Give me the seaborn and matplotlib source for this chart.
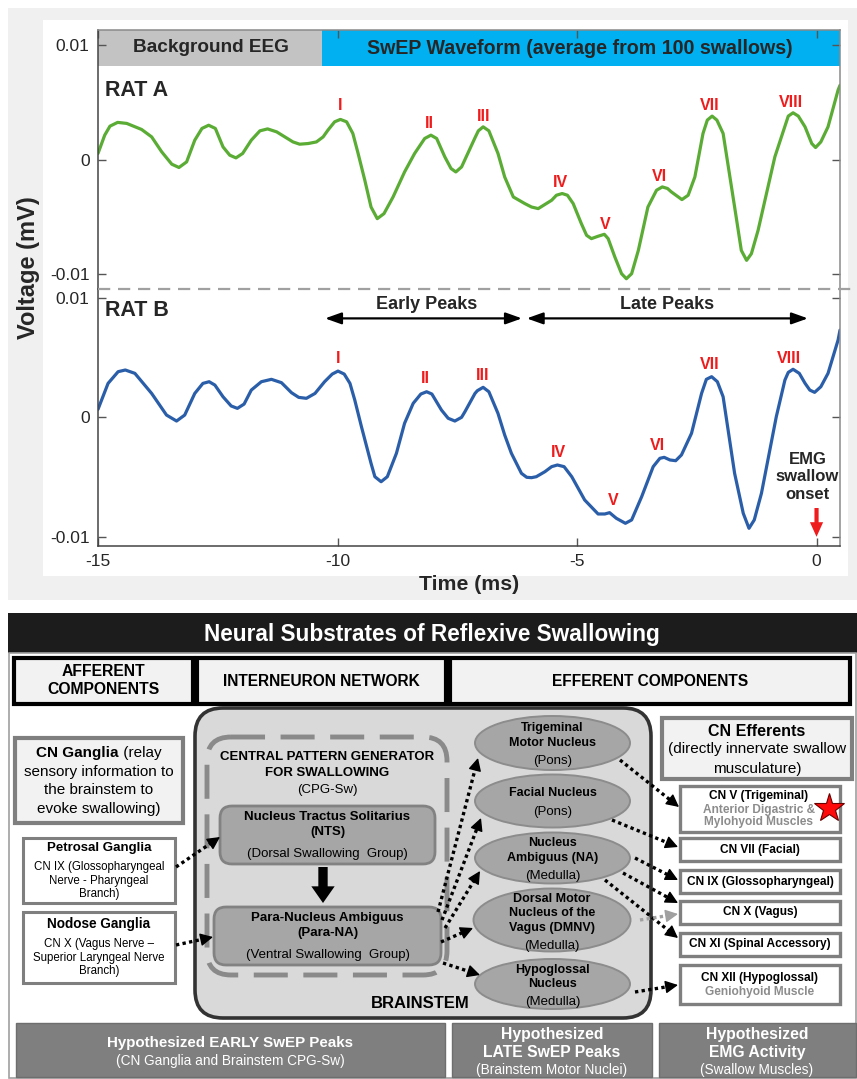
import numpy as np
import pandas as pd
import matplotlib
matplotlib.use("Agg")
import matplotlib.pyplot as plt
import seaborn as sns
from matplotlib.patches import Rectangle, FancyBboxPatch, Ellipse

# ---------------- data ----------------
time_a_ms = [-15.0, -14.86, -14.75, -14.59, -14.40, -14.09, -13.88, -13.67, -13.46, -13.31,
             -13.15, -12.98, -12.83, -12.69, -12.55, -12.39, -12.25, -12.12, -11.98, -11.80,
             -11.62, -11.46, -11.27, -11.10, -10.93, -10.79, -10.61, -10.44, -10.30, -10.20,
             -10.06, -9.94, -9.81, -9.68, -9.57, -9.43, -9.30, -9.17, -9.03, -8.84,
             -8.60, -8.39, -8.18, -8.05, -7.93, -7.76, -7.63, -7.53, -7.41, -7.13,
             -7.06, -6.96, -6.84, -6.65, -6.51, -6.33, -6.09, -5.95, -5.81, -5.53,
             -5.43, -5.31, -5.20, -5.08, -4.91, -4.80, -4.70, -4.56, -4.43, -4.35,
             -4.21, -4.07, -3.97, -3.86, -3.72, -3.52, -3.34, -3.22, -3.11, -3.03,
             -2.81, -2.68, -2.54, -2.37, -2.28, -2.18, -2.08, -1.95, -1.71, -1.57,
             -1.46, -1.36, -1.22, -0.87, -0.59, -0.49, -0.38, -0.24, -0.10, -0.02,
             0.09, 0.24, 0.45, 0.49]
rat_a_uV = [0.53, 2.13, 2.92, 3.25, 3.16, 2.63, 1.98, 0.67, -0.41, -0.70,
            -0.21, 1.69, 2.72, 3.0, 2.72, 1.1, 0.38, 0.14, 0.53, 1.69,
            2.51, 2.68, 2.42, 1.98, 1.54, 1.34, 1.40, 1.54, 1.98, 2.57,
            3.30, 3.51, 3.30, 2.28, 0.53, -1.82, -4.16, -5.18, -4.74, -3.28,
            -1.09, 0.53, 1.84, 2.13, 1.84, 0.23, -0.79, -1.09, -0.65, 1.9,
            2.51, 2.86, 2.51, 0.53, -1.53, -3.28, -3.86, -4.16, -4.30, -3.57,
            -3.13, -2.98, -3.13, -3.86, -5.61, -6.64, -6.93, -6.72, -6.55, -6.93,
            -8.54, -10.0, -10.44, -10.0, -7.96, -4.16, -2.69, -2.40, -2.54, -2.84,
            -3.51, -3.13, -1.53, 2.28, 3.45, 3.80, 3.45, 2.28, -4.16, -7.96,
            -8.83, -8.25, -6.20, 0.23, 3.80, 4.09, 3.80, 2.86, 1.40, 1.05,
            1.54, 2.86, 6.08, 6.5]

time_b_ms = [-15.0, -14.79, -14.58, -14.43, -14.23, -13.88, -13.57, -13.36, -13.19, -12.98,
             -12.81, -12.68, -12.56, -12.39, -12.22, -12.09, -11.95, -11.80, -11.59, -11.38,
             -11.17, -10.96, -10.81, -10.65, -10.47, -10.27, -10.11, -9.99, -9.86, -9.74,
             -9.64, -9.50, -9.30, -9.22, -9.09, -8.96, -8.77, -8.60, -8.42, -8.26,
             -8.14, -8.03, -7.83, -7.69, -7.55, -7.41, -7.34, -7.13, -7.08, -6.96,
             -6.84, -6.65, -6.51, -6.37, -6.16, -6.05, -5.95, -5.85, -5.67, -5.53,
             -5.41, -5.27, -5.11, -4.84, -4.56, -4.42, -4.32, -4.18, -3.99, -3.86,
             -3.65, -3.41, -3.27, -3.18, -3.06, -2.94, -2.82, -2.61, -2.40, -2.30,
             -2.19, -2.07, -1.95, -1.71, -1.53, -1.41, -1.30, -1.15, -0.84, -0.66,
             -0.59, -0.49, -0.36, -0.24, -0.14, -0.04, 0.09, 0.24, 0.45, 0.49]
rat_b_uV = [0.67, 2.84, 3.82, 3.96, 3.68, 2.0, 0.19, -0.31, 0.19, 2.0,
            2.84, 2.98, 2.70, 1.72, 0.95, 0.75, 1.11, 2.28, 2.98, 3.18,
            2.90, 2.06, 1.67, 1.59, 2.0, 2.98, 3.62, 3.87, 3.62, 2.84,
            1.45, -0.79, -3.85, -4.97, -5.39, -4.97, -3.01, -0.50, 1.17, 1.95,
            2.14, 1.95, 0.61, -0.08, -0.31, 0.0, 0.47, 2.0, 2.23, 2.51,
            2.14, 0.33, -1.48, -3.01, -4.69, -5.02, -5.05, -4.97, -4.55, -4.13,
            -3.99, -4.13, -4.97, -6.92, -8.09, -8.09, -7.98, -8.45, -8.87, -8.59,
            -6.64, -4.13, -3.43, -3.35, -3.57, -3.63, -3.15, -1.34, 2.0, 3.18,
            3.40, 2.98, 1.72, -4.69, -8.03, -9.29, -8.59, -6.36, 0.05, 3.12,
            3.76, 4.02, 3.68, 2.85, 2.28, 2.09, 2.56, 3.68, 6.47, 7.3]

peak_names = ["I", "II", "III", "IV", "V", "VI", "VII", "VIII"]
peak_lbl_a_t = [-9.95, -8.09, -6.95, -5.34, -4.42, -3.28, -2.22, -0.54]
peak_lbl_a_uV = [4.76, 3.18, 3.74, -2.05, -5.68, -1.53, 4.76, 5.0]
peak_lbl_b_t = [-9.98, -8.16, -6.98, -5.39, -4.25, -3.33, -2.24, -0.57]
peak_lbl_b_uV = [4.94, 3.26, 3.54, -2.96, -6.92, -2.37, 4.38, 4.94]

x_ticks = [-15, -10, -5, 0]
x_tick_labels = ["-15", "-10", "-5", "0"]
y_ticks = [-0.01, 0, 0.01]
y_tick_labels = ["-0.01", "0", "0.01"]

df_a = pd.DataFrame({"time_ms": time_a_ms, "voltage_mV": np.array(rat_a_uV) / 1000})
df_b = pd.DataFrame({"time_ms": time_b_ms, "voltage_mV": np.array(rat_b_uV) / 1000})

# ---------------- style ----------------
sns.set_theme(style="white")
plt.rcParams["font.family"] = ["Liberation Sans", "DejaVu Sans"]

W, H = 857, 1079
fig = plt.figure(figsize=(W / 100, H / 100), dpi=100)

def px_axes(z):
    a = fig.add_axes([0, 0, 1, 1], zorder=z)
    a.set_xlim(0, W)
    a.set_ylim(H, 0)
    a.set_autoscale_on(False)
    a.axis("off")
    a.patch.set_alpha(0)
    return a

bg = px_axes(0)
fg = px_axes(5)

GREEN = "#5aac35"
BLUE = "#2b5ea8"
RED = "#ee1c1c"

# background panels of the chart
bg.add_patch(Rectangle((8, 8), W - 8, 592, fc="#f0f0f0", ec="none"))
bg.add_patch(Rectangle((43, 20), 805, 556, fc="white", ec="none"))

# ---------------- chart axes ----------------
L, R = 98, 840
axA = fig.add_axes([L / W, 1 - 289 / H, (R - L) / W, 259 / H], zorder=1)
axB = fig.add_axes([L / W, 1 - 546 / H, (R - L) / W, 257 / H], zorder=1)

sns.lineplot(data=df_a, x="time_ms", y="voltage_mV", ax=axA, color=GREEN, linewidth=2.3)
sns.lineplot(data=df_b, x="time_ms", y="voltage_mV", ax=axB, color=BLUE, linewidth=2.3)
for ax in (axA, axB):
    for ln in ax.get_lines():
        ln.set_solid_joinstyle("round")
        ln.set_solid_capstyle("round")

XLIM = (-15, 0.49)
axA.set_xlim(*XLIM)
axB.set_xlim(*XLIM)
axA.set_ylim(-0.01134, 0.01134)
axB.set_ylim(-0.01077, 0.01074)

for ax in (axA, axB):
    ax.set_facecolor("white")
    ax.set_xlabel("")
    ax.set_ylabel("")
    ax.set_xticks(x_ticks)
    ax.set_yticks(y_ticks)
    ax.set_yticklabels(y_tick_labels)
    ax.tick_params(axis="both", direction="in", length=5.5, width=1, color="#555555",
                   labelsize=12.5, labelcolor="#262626", pad=6,
                   left=True, right=True, top=True, bottom=True)
    for s in ("left", "bottom"):
        ax.spines[s].set_color("#444444")
        ax.spines[s].set_linewidth(1.1)
    for s in ("right", "top"):
        ax.spines[s].set_color("#8a8a8a")
        ax.spines[s].set_linewidth(1.1)

axA.tick_params(bottom=False, labelbottom=False)
axA.spines["bottom"].set_visible(False)
axB.spines["top"].set_visible(False)
axB.tick_params(top=False)
axB.set_xticklabels(x_tick_labels)

# dashed separator
sep, = fg.plot([L, W], [289, 289], color="#a0a0a0", lw=1.6)
sep.set_dashes([5.5, 3.5])

# header bar in Rat A panel
ytop = 0.01134
ybot = 0.00818
xsplit = -10.33
axA.add_patch(Rectangle((XLIM[0], ybot), xsplit - XLIM[0], ytop - ybot,
                        fc="#c3c3c3", ec="none", zorder=0.5))
axA.add_patch(Rectangle((xsplit, ybot), XLIM[1] - xsplit, ytop - ybot,
                        fc="#00b0f0", ec="none", zorder=0.5))
fg.text(211, 48, "Background EEG", fontsize=13.7, fontweight="bold", ha="center", va="center")
fg.text(580, 48, "SwEP Waveform (average from 100 swallows)", fontsize=14.1,
        fontweight="bold", ha="center", va="center")

fg.text(105, 90, "RAT A", fontsize=15.5, fontweight="bold", ha="left", va="center")
fg.text(105, 311, "RAT B", fontsize=15.5, fontweight="bold", ha="left", va="center")

for name, t, v in zip(peak_names, peak_lbl_a_t, peak_lbl_a_uV):
    axA.text(t, v / 1000, name, color=RED, fontsize=11.5, fontweight="bold",
             ha="center", va="center")
for name, t, v in zip(peak_names, peak_lbl_b_t, peak_lbl_b_uV):
    axB.text(t, v / 1000, name, color=RED, fontsize=11.5, fontweight="bold",
             ha="center", va="center")

# early / late peaks arrows
arr_kw = dict(arrowstyle="<|-|>,head_length=0.7,head_width=0.25", color="black",
              lw=1.6, mutation_scale=14, shrinkA=0, shrinkB=0)
axB.annotate("", xy=(-6.15, 0.00828), xytext=(-10.26, 0.00828), arrowprops=arr_kw)
axB.annotate("", xy=(-0.18, 0.00828), xytext=(-6.05, 0.00828), arrowprops=arr_kw)
axB.text(-8.14, 0.00945, "Early Peaks", fontsize=13, fontweight="bold", ha="center", va="center")
axB.text(-3.13, 0.00945, "Late Peaks", fontsize=13, fontweight="bold", ha="center", va="center")

axB.text(-0.19, -0.00497, "EMG\nswallow\nonset", fontsize=12, fontweight="bold",
         ha="center", va="center", linespacing=1.2)
axB.annotate("", xy=(0, -0.0100), xytext=(0, -0.00759),
             arrowprops=dict(arrowstyle="simple,head_length=1.05,head_width=0.95,tail_width=0.3",
                             fc=RED, ec="none", mutation_scale=10, shrinkA=0, shrinkB=0))

fg.text(29, 268, "Voltage (mV)", rotation=90, fontsize=17, fontweight="bold",
        ha="center", va="center")
fg.text(469, 585, "Time (ms)", fontsize=15.3, fontweight="bold", ha="center", va="center")

# ---------------- diagram ----------------
def T(x, y, s, size, bold=False, color="black", ha="center"):
    return fg.text(x, y, s, fontsize=size, fontweight="bold" if bold else "normal",
                   color=color, ha=ha, va="center")

def box(x0, y0, x1, y1, fc, ec, lw, r=0, dashes=None):
    p = FancyBboxPatch((x0, y0), x1 - x0, y1 - y0,
                       boxstyle=f"round,pad=0,rounding_size={r}" if r else "square,pad=0",
                       fc=fc, ec=ec, lw=lw)
    if dashes is not None:
        p.set_linestyle((0, dashes))
    fg.add_patch(p)
    return p

def darrow(p0, p1, color="black", lw=2.4, hl=10):
    x0, y0 = p0
    x1, y1 = p1
    d = np.hypot(x1 - x0, y1 - y0)
    ux, uy = (x1 - x0) / d, (y1 - y0) / d
    xm, ym = x1 - ux * hl, y1 - uy * hl
    ln, = fg.plot([x0, xm], [y0, ym], color=color, lw=lw)
    ln.set_dashes([1.0, 1.0])
    ln.set_dash_capstyle("butt")
    fg.annotate("", xy=(x1, y1), xytext=(xm, ym),
                arrowprops=dict(arrowstyle="-|>,head_length=0.55,head_width=0.28",
                                color=color, lw=1, mutation_scale=14, shrinkA=0, shrinkB=0))

# title bar and frame
fg.add_patch(Rectangle((8, 613), W - 8, 40, fc="#1c1c1c", ec="none"))
T(432, 634, "Neural Substrates of Reflexive Swallowing", 16.3, True, "white")
fg.add_patch(Rectangle((9, 653), W - 10, H - 654, fc="none", ec="#a0a0a0", lw=1.2))

# section headers
for (x0, x1), lines in [((14, 193), ["AFFERENT", "COMPONENTS"]),
                        ((197, 446), ["INTERNEURON NETWORK"]),
                        ((450, 850), ["EFFERENT COMPONENTS"])]:
    box(x0, 658, x1, 704, "#f2f2f2", "black", 3)
    cx = (x0 + x1) / 2
    if len(lines) == 2:
        T(cx, 671, lines[0], 11.3, True)
        T(cx, 690, lines[1], 11.3, True)
    else:
        T(cx, 681, lines[0], 11.2, True)

# brainstem
box(195, 708, 651, 1018, "#d9d9d9", "#333333", 2.6, r=28)
T(420, 1004, "BRAINSTEM", 12, True)
box(207, 737, 447, 975, "none", "#8a8a8a", 3.5, r=24, dashes=(7.0, 3.2))
T(327, 757, "CENTRAL PATTERN GENERATOR", 9.5, True)
T(327, 772.5, "FOR SWALLOWING", 9.5, True)
T(327, 790, "(CPG-Sw)", 9.5)

box(220, 806, 435, 864, "#a6a6a6", "#828282", 2, r=12)
T(327.5, 817, "Nucleus Tractus Solitarius", 9.5, True)
T(327.5, 832.5, "(NTS)", 9.5, True)
T(327.5, 853.5, "(Dorsal Swallowing  Group)", 9.5)

fg.annotate("", xy=(323, 903), xytext=(323, 867),
            arrowprops=dict(arrowstyle="simple,head_length=0.75,head_width=1.05,tail_width=0.42",
                            fc="black", ec="none", mutation_scale=16, shrinkA=0, shrinkB=0))

box(214, 907, 441, 965, "#a6a6a6", "#828282", 2, r=12)
T(327.5, 918, "Para-Nucleus Ambiguus", 9.5, True)
T(327.5, 933, "(Para-NA)", 9.5, True)
T(327.5, 955, "(Ventral Swallowing  Group)", 9.5)

# afferent column
box(15, 738, 183, 823, "#f2f2f2", "#7f7f7f", 3)
renderer = fig.canvas.get_renderer()
t1 = T(0, 753, "CN Ganglia", 11, True, ha="left")
t2 = T(0, 753, " (relay", 11, ha="left")
w1 = t1.get_window_extent(renderer).width
w2 = t2.get_window_extent(renderer).width
x0 = 99 - (w1 + w2) / 2
t1.set_x(x0)
t2.set_x(x0 + w1)
T(99, 772, "sensory information to", 11)
T(99, 790.5, "the brainstem to", 11)
T(99, 809, "evoke swallowing)", 11)

box(23, 838, 175, 903, "white", "#7f7f7f", 2.2)
T(99, 848, "Petrosal Ganglia", 9.5, True)
T(99, 867, "CN IX (Glossopharyngeal", 8.3)
T(99, 881, "Nerve - Pharyngeal", 8.3)
T(99, 894.5, "Branch)", 8.3)

box(23, 912, 175, 983, "white", "#7f7f7f", 2.2)
T(99, 924, "Nodose Ganglia", 9.8, True)
T(99, 944.5, "CN X (Vagus Nerve \u2013", 8.3)
T(99, 958, "Superior Laryngeal Nerve", 8.3)
T(99, 971, "Branch)", 8.3)

darrow((176, 867), (220, 837))
darrow((176, 945), (213, 937))

# motor nuclei ellipses
ellipses = [((552.5, 743), 155, 54, [("Trigeminal", 727.5, True), ("Motor Nucleus", 743, True), ("(Pons)", 761, False)]),
            ((552.5, 801), 155, 53, [("Facial Nucleus", 793.5, True), ("(Pons)", 812, False)]),
            ((552.5, 858), 155, 51, [("Nucleus", 843, True), ("Ambiguus (NA)", 858.5, True), ("(Medulla)", 876, False)]),
            ((552.0, 920), 157, 63, [("Dorsal Motor", 899, True), ("Nucleus of the", 913, True), ("Vagus (DMNV)", 928.5, True), ("(Medulla)", 946, False)]),
            ((552.5, 984), 155, 50, [("Hypoglossal", 969.5, True), ("Nucleus", 984, True), ("(Medulla)", 1002.5, False)])]
for (cx, cy), w, h, lines in ellipses:
    fg.add_patch(Ellipse((cx, cy), w, h, fc="#a6a6a6", ec="#8c8c8c", lw=1.4))
    for s, y, b in lines:
        T(cx, y, s, 9 if b else 9.5, b)

darrow((438, 912), (478, 758))
darrow((442, 920), (481, 818))
darrow((445, 928), (480, 871))
darrow((441, 942), (473, 928))
darrow((443, 963), (480, 975))

# efferent column
box(662, 718, 852, 779, "#f2f2f2", "#7f7f7f", 3)
T(757, 731, "CN Efferents", 11.5, True)
T(757, 749.5, "(directly innervate swallow", 11)
T(757, 768.5, "musculature)", 11)

box(680, 786, 840, 832, "white", "#7f7f7f", 2.4)
T(759, 796, "CN V (Trigeminal)", 8.6, True)
T(759, 809.5, "Anterior Digastric &", 8.6, True, "#8c8c8c")
T(759, 822.5, "Mylohyoid Muscles", 8.6, True, "#8c8c8c")
fg.plot(829, 808, marker="*", ms=22, mfc="#ff0a0a", mec="#6a0000", mew=0.8, ls="none")

for y0, y1, s in [(838, 861, "CN VII (Facial)"), (870, 893, "CN IX (Glossopharyngeal)"),
                  (901, 924, "CN X (Vagus)"), (933, 956, "CN XI (Spinal Accessory)")]:
    box(680, y0, 840, y1, "white", "#7f7f7f", 2.4)
    T(760, (y0 + y1) / 2, s, 8.6, True)
box(680, 965, 840, 1004, "white", "#7f7f7f", 2.4)
T(760, 977.5, "CN XII (Hypoglossal)", 8.6, True)
T(760, 992, "Geniohyoid Muscle", 8.6, True, "#8c8c8c")

darrow((620, 760), (679, 807))
darrow((612, 820), (678, 847))
darrow((635, 858), (678, 880))
darrow((623, 873), (678, 903))
darrow((605, 880), (678, 938))
darrow((640, 920), (678, 914), color="#a0a0a0")
darrow((635, 992), (678, 985))

# bottom hypotheses
box(16, 1023, 445, 1077, "#7f7f7f", "#6e6e6e", 1)
T(230.5, 1043.5, "Hypothesized EARLY SwEP Peaks", 10.9, True, "white")
T(230.5, 1061, "(CN Ganglia and Brainstem CPG-Sw)", 9.8, False, "white")
box(452, 1023, 652, 1077, "#7f7f7f", "#6e6e6e", 1)
T(552, 1034.5, "Hypothesized", 11.3, True, "white")
T(552, 1052.5, "LATE SwEP Peaks", 11.3, True, "white")
T(552, 1070, "(Brainstem Motor Nuclei)", 9.8, False, "white")
box(659, 1023, 856, 1077, "#7f7f7f", "#6e6e6e", 1)
T(757, 1034.5, "Hypothesized", 11.3, True, "white")
T(757, 1052.5, "EMG Activity", 11.3, True, "white")
T(757, 1070, "(Swallow Muscles)", 9.8, False, "white")

fig.savefig("out.png", dpi=100)
